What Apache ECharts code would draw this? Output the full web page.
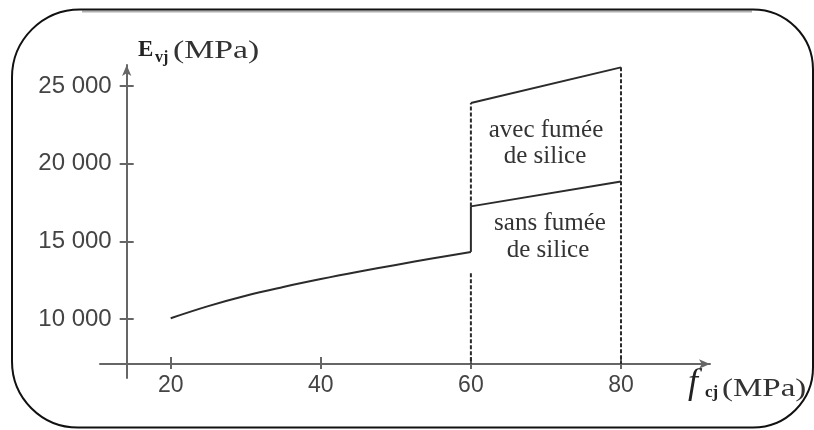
<!DOCTYPE html>
<html><head><meta charset="utf-8">
<script src="https://cdn.jsdelivr.net/npm/echarts@6/dist/echarts.min.js"></script>
<style>html,body{margin:0;padding:0;background:#fff}#c{width:814px;height:430px}</style>
</head><body><div id="c"></div>
<script>
// tick labels
const xTicks = [20, 40, 60, 80];
const yTicks = [10000, 15000, 20000, 25000];
// E_vj for fcj <= 60 MPa
const fcjLow = [20, 25, 30, 35, 40, 45, 50, 55, 60];
const evjLow = [10050, 10830, 11500, 12060, 12570, 13040, 13480, 13910, 14320];
// 60..80 MPa
const fcjHigh = [60, 80];
const evjSans = [17250, 18850];   // sans fumée de silice
const evjAvec = [23900, 26200];   // avec fumée de silice
const dashLowTop = 12950;         // top of the lower dashed guide at 60
const axisCross = 7100;           // E value where the f axis lies

const AX = '#666', LN = '#2b2b2b';
const pairs = (xs, ys) => xs.map((x, i) => [x, ys[i]]);
const fmt = v => String(v).replace(/\B(?=(\d{3})+(?!\d))/g, ' ');

const xMin = 10.58, xMax = 91.86, yMin = 6201, yMax = 26352;

function xAx(primary) {
  return {
    type: 'value', min: xMin, max: xMax, position: 'bottom', offset: -14,
    axisLine: primary ? {show: true, lineStyle: {color: AX, width: 2}, symbol: ['none', 'arrow'], symbolSize: [7, 11]} : {show: false},
    axisTick: {show: true, inside: !primary, length: primary ? 5 : 7, lineStyle: {color: AX, width: 2}, customValues: xTicks},
    axisLabel: {show: primary, customValues: xTicks, margin: 10, color: '#444', fontSize: 23, fontFamily: 'Liberation Sans'},
    splitLine: {show: false}
  };
}
function yAx(primary) {
  return {
    type: 'value', min: yMin, max: yMax, position: 'left', offset: -26.7,
    axisLine: primary ? {show: true, lineStyle: {color: AX, width: 2}, symbol: ['none', 'arrow'], symbolSize: [7, 11]} : {show: false},
    axisTick: {show: true, inside: !primary, length: 7, lineStyle: {color: AX, width: 2}, customValues: yTicks},
    axisLabel: {show: primary, customValues: yTicks, margin: 15, color: '#444', fontSize: 24, fontFamily: 'Liberation Sans', formatter: fmt},
    splitLine: {show: false}
  };
}
const solid = {color: LN, width: 2};
const dashed = {color: LN, width: 2, type: [4, 2]};
function ln(data, style, smooth) {
  return {type: 'line', data, symbol: 'none', lineStyle: style, silent: true, animation: false, z: 3,
          smooth: smooth || false};
}
const option = {
  animation: false,
  backgroundColor: '#fff',
  grid: {left: 100, right: 104, top: 65, bottom: 52},
  xAxis: [xAx(true), xAx(false)],
  yAxis: [yAx(true), yAx(false)],
  series: [
    ln(pairs(fcjLow, evjLow), solid, 0.4),
    ln(pairs(fcjHigh, evjSans), solid),
    ln(pairs(fcjHigh, evjAvec), solid),
    ln([[fcjHigh[0], evjLow[evjLow.length - 1]], [fcjHigh[0], evjSans[0]]], solid),
    ln([[fcjHigh[0], evjSans[0]], [fcjHigh[0], evjAvec[0]]], dashed),
    ln([[fcjHigh[0], dashLowTop], [fcjHigh[0], axisCross]], dashed),
    ln([[fcjHigh[1], evjAvec[1]], [fcjHigh[1], axisCross]], dashed)
  ],
  graphic: [
    {type: 'rect', shape: {x: 12, y: 9.5, width: 801, height: 418, r: [68, 60, 60, 66]}, style: {fill: 'none', stroke: '#111', lineWidth: 2}, z: 10},
    {type: 'line', shape: {x1: 82, y1: 11.5, x2: 752, y2: 11.5}, style: {stroke: '#b0b0b0', lineWidth: 2}, z: 9},
    {type: 'text', left: 138, top: 39, style: {text: 'E', font: 'bold 23px "Liberation Serif"', fill: '#222'}},
    {type: 'text', left: 155, top: 50, style: {text: 'vj', font: 'bold 16px "Liberation Serif"', fill: '#222'}},
    {type: 'text', left: 173, top: 39, scaleX: 1.35, style: {text: '(MPa)', font: '25px "Liberation Serif"', fill: '#333'}},
    {type: 'text', left: 688, top: 366, style: {text: 'f', font: 'italic 36px "Liberation Serif"', fill: '#222'}},
    {type: 'text', left: 705, top: 384, style: {text: 'cj', font: 'bold 17px "Liberation Serif"', fill: '#222'}},
    {type: 'text', left: 722, top: 377, scaleX: 1.32, style: {text: '(MPa)', font: '25px "Liberation Serif"', fill: '#333'}},
    {type: 'text', x: 546, y: 130, style: {text: 'avec fumée', font: '25px "Liberation Serif"', fill: '#333', align: 'center', verticalAlign: 'middle'}},
    {type: 'text', x: 545, y: 156, style: {text: 'de silice', font: '25px "Liberation Serif"', fill: '#333', align: 'center', verticalAlign: 'middle'}},
    {type: 'text', x: 550, y: 223, style: {text: 'sans fumée', font: '25px "Liberation Serif"', fill: '#333', align: 'center', verticalAlign: 'middle'}},
    {type: 'text', x: 548, y: 250, style: {text: 'de silice', font: '25px "Liberation Serif"', fill: '#333', align: 'center', verticalAlign: 'middle'}}
  ]
};
const chart = echarts.init(document.getElementById('c'), null, {renderer: 'canvas'});
chart.setOption(option);
</script></body></html>
